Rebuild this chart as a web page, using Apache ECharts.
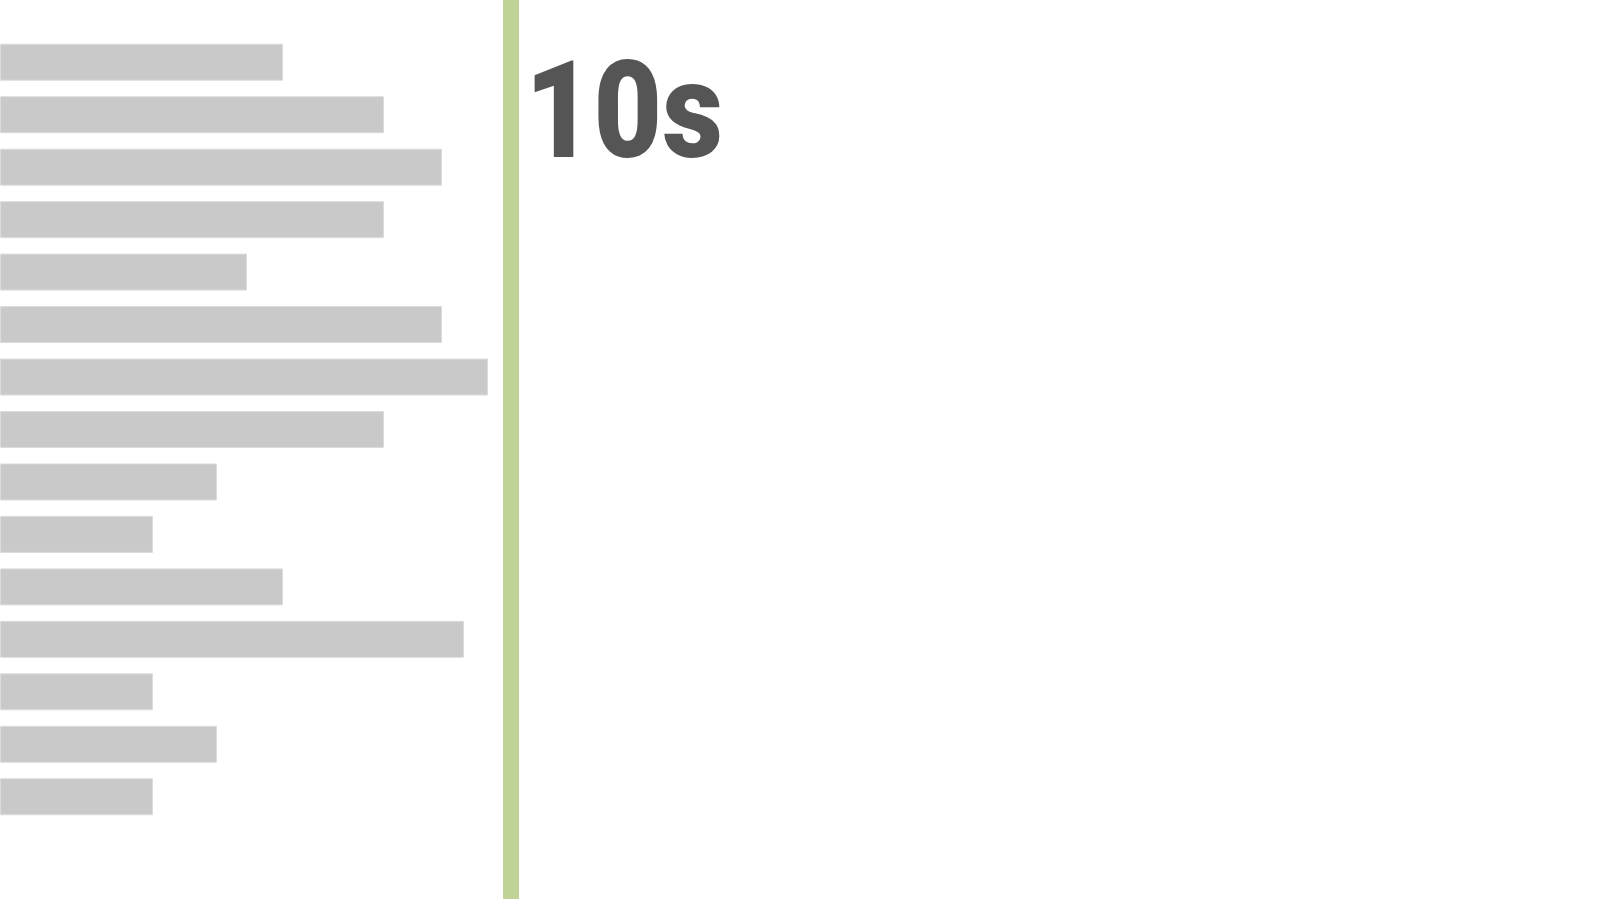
<!DOCTYPE html>
<html>
<head>
<meta charset="utf-8">
<title>10s</title>
<script src="https://cdn.jsdelivr.net/npm/echarts@6/dist/echarts.min.js"></script>
<style>
  html, body { margin: 0; padding: 0; background: #fff; }
  #chart { width: 1600px; height: 899px; }
</style>
</head>
<body>
<div id="chart"></div>
<script>
// bar order top to bottom
var categories = ["A", "B", "C", "D", "E", "F", "G", "H", "I", "J", "K", "L", "M", "N", "O"];
var values = [28.3, 38.4, 44.2, 38.4, 24.7, 44.2, 48.8, 38.4, 21.7, 15.3, 28.3, 46.4, 15.3, 21.7, 15.3];
var markerValue = 51.1;
var timeLabel = "10s";

var chart = echarts.init(document.getElementById("chart"));

var option = {
  animation: false,
  backgroundColor: "#ffffff",
  grid: {
    left: 0,
    top: 36,
    width: 1000,
    height: 787
  },
  xAxis: {
    type: "value",
    min: 0,
    max: 100,
    show: false
  },
  yAxis: {
    type: "category",
    data: categories,
    inverse: true,
    show: false
  },
  series: [
    {
      type: "bar",
      data: values,
      barWidth: 37,
      itemStyle: {
        color: "#c9c9c9",
        borderColor: "#dcdcdc",
        borderWidth: 1
      },
      silent: true
    }
  ]
}

chart.setOption(option)

// green marker line runs the full height of the page
var mx = chart.convertToPixel({ xAxisIndex: 0 }, markerValue)

chart.setOption({
  graphic: [
    {
      type: "rect",
      shape: { x: mx - 8, y: 0, width: 16, height: 899 },
      style: { fill: "#c0d396" },
      z: 10
    },
    {
      type: "text",
      x: 525,
      y: 123,
      scaleX: 0.87,
      style: {
        text: timeLabel,
        font: "900 136px Roboto",
        fill: "#555555",
        textAlign: "left",
        textVerticalAlign: "middle"
      },
      z: 11
    }
  ]
})
</script>
</body>
</html>
